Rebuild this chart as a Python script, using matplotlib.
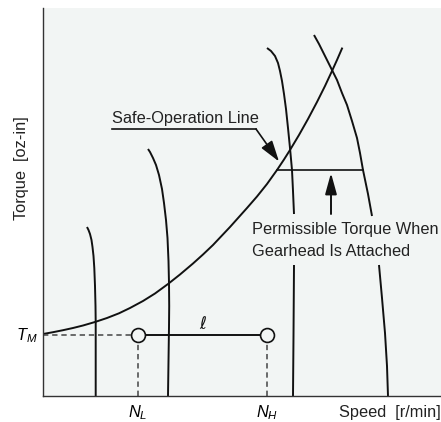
# 모터 속도-토크 특성 개념도 (Safe-Operation Line)
import matplotlib
matplotlib.use('Agg')
import matplotlib.pyplot as plt
from matplotlib import font_manager

fams = [f.name for f in font_manager.fontManager.ttflist]
main_font = 'Liberation Sans Narrow' if 'Liberation Sans Narrow' in fams else 'Liberation Sans'
plt.rcParams['font.family'] = [main_font, 'DejaVu Sans']
plt.rcParams['mathtext.fontset'] = 'custom'
plt.rcParams['mathtext.it'] = main_font + ':italic'
plt.rcParams['mathtext.rm'] = main_font

# 데이터 (그림에서 읽은 값, 임의 단위)
safe_x = [0, 10, 20, 30, 40, 52, 64, 76, 87, 100, 112, 125, 137, 150, 160, 170, 187, 204, 214, 224,
          234, 241, 247, 256, 265, 274, 282, 289, 294, 299]
safe_y = [62, 63.8, 65.8, 68, 70.5, 74, 78, 82.7, 88, 95, 102.5, 112, 121.5, 132.5, 141.5, 151, 169,
          188, 199.5, 212, 226, 236.5, 246, 261, 277, 294, 310, 325, 336, 347.5]

c1_x = [44, 45.5, 47, 48.5, 49.5, 50.5, 51.3, 52, 52.5, 52.7, 52.7, 52.7]
c1_y = [169, 166, 162, 156, 149, 140, 128, 110, 90, 74, 40, 0]
c2_x = [105, 107, 110, 113, 116, 119, 121, 123, 124.5, 125.5, 126, 126.2, 126, 125.5, 125]
c2_y = [247, 244, 238, 231, 221, 207, 193, 176, 158, 135, 113, 90, 69, 35, 0]
c3_top_x = [224, 228, 232, 235, 237, 239, 241, 243, 245, 247, 249, 250, 251]
c3_top_y = [348, 345, 340, 333, 325, 315, 302, 287, 268, 248, 226, 205, 182]
c3_bot_x = [251, 250.5, 250]
c3_bot_y = [131, 60, 0]
c4_top_x = [271, 276, 281, 286, 289, 294, 299, 304, 309, 314, 317, 320, 325, 329]
c4_top_y = [361, 352, 342, 332, 326, 316, 303, 291, 275, 258, 243, 226, 202, 180]
c4_bot_x = [336, 339, 342, 344, 345]
c4_bot_y = [131, 98, 63, 30, 0]

perm_x = [234, 320]
perm_y = 226
t_m = 61
n_l = 95
n_h = 224

bg = '#f2f5f4'
ink = '#111111'
fs = 11.8

fig = plt.figure(figsize=(4.41, 4.22), dpi=100)
ax = fig.add_axes([43 / 441, 26 / 422, 398 / 441, 388 / 422])
ax.set_facecolor(bg)
ax.set_xlim(0, 398)
ax.set_ylim(0, 388)
ax.set_xticks([])
ax.set_yticks([])
for s in ['top', 'right']:
    ax.spines[s].set_visible(False)
for s in ['left', 'bottom']:
    ax.spines[s].set_color('#333333')
    ax.spines[s].set_linewidth(1.0)

lw = 1.4
ax.plot(safe_x, safe_y, color=ink, lw=lw)
for xs, ys in [(c1_x, c1_y), (c2_x, c2_y), (c3_top_x, c3_top_y), (c3_bot_x, c3_bot_y),
               (c4_top_x, c4_top_y), (c4_bot_x, c4_bot_y)]:
    ax.plot(xs, ys, color=ink, lw=lw, solid_capstyle='butt')

# 허용 토크 (기어헤드 장착시)
ax.plot(perm_x, [perm_y, perm_y], color=ink, lw=1.2)
ax.annotate('', xy=(288, 223), xytext=(288, 182),
            arrowprops=dict(arrowstyle='-|>,head_length=0.8,head_width=0.22', mutation_scale=16,
                            color=ink, lw=1.4, shrinkA=0, shrinkB=0))
ax.text(209, 167, 'Permissible Torque When', fontsize=fs, ha='left', va='center', color='#222222')
ax.text(209, 145, 'Gearhead Is Attached', fontsize=fs, ha='left', va='center', color='#222222')

# Safe-Operation Line 라벨
ax.text(69, 273, 'Safe-Operation Line', fontsize=fs, ha='left', va='baseline', color='#222222')
ax.plot([69, 213], [267, 267], color=ink, lw=1.2)
ax.annotate('', xy=(236, 234.5), xytext=(213, 267),
            arrowprops=dict(arrowstyle='-|>,head_length=0.8,head_width=0.25', mutation_scale=16,
                            color=ink, lw=1.2, shrinkA=0, shrinkB=0))

# T_M, N_L, N_H
dash = dict(color='#444444', lw=1.1, dashes=(3.5, 2.5))
ax.plot([0, n_l], [t_m, t_m], **dash)
ax.plot([n_l, n_l], [0, t_m], **dash)
ax.plot([n_h, n_h], [0, t_m], **dash)
ax.plot([n_l, n_h], [t_m, t_m], color=ink, lw=lw)
ax.plot([n_l, n_h], [t_m, t_m], 'o', ms=10, mfc=bg, mec=ink, mew=1.2, zorder=5)
ax.text((n_l + n_h) / 2, 72, 'ℓ', fontsize=12, ha='center', va='center', color=ink,
        family=['DejaVu Sans'], style='italic')

ax.text(-16.5, 55.5, '$T_M$', fontsize=fs, ha='center', va='baseline', clip_on=False)
ax.text(n_l, -21, '$N_L$', fontsize=fs, ha='center', va='baseline', clip_on=False)
ax.text(n_h, -21, '$N_H$', fontsize=fs, ha='center', va='baseline', clip_on=False)
ax.text(398, -21, 'Speed  [r/min]', fontsize=fs, ha='right', va='baseline', clip_on=False,
        color='#222222')
ax.text(-21, 228, 'Torque  [oz-in]', fontsize=fs, rotation=90, ha='center', va='center',
        clip_on=False, color='#222222')

fig.savefig('out.png', dpi=100, facecolor='white')
